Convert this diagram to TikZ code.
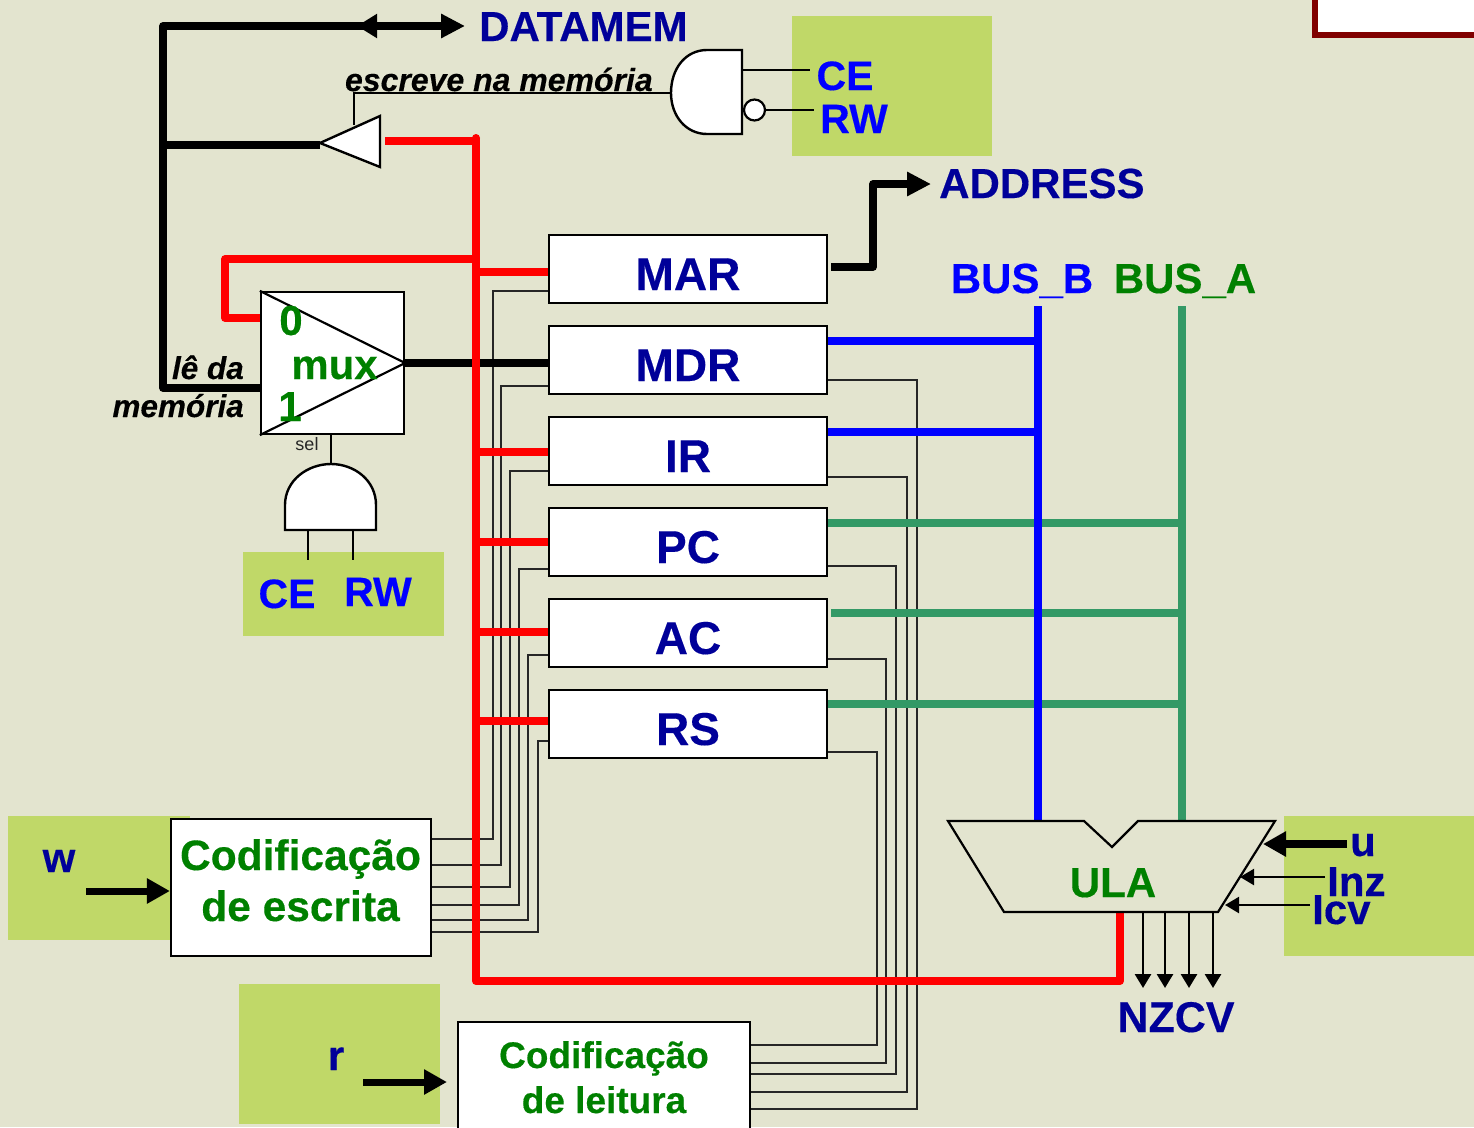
\documentclass[tikz,border=0pt]{standalone}
\usepackage{fontspec}
\setmainfont{Liberation Sans}[BoldFeatures={FakeBold=0.3}, BoldItalicFeatures={FakeBold=0.3}]
\usetikzlibrary{arrows.meta}
\definecolor{slidebg}{RGB}{227, 228, 207}
\definecolor{padgreen}{RGB}{192, 216, 104}
\definecolor{navytext}{RGB}{0, 0, 153}
\definecolor{bluetext}{RGB}{0, 0, 255}
\definecolor{greentext}{RGB}{0, 128, 0}
\definecolor{busgreen}{RGB}{51, 153, 102}
\definecolor{framered}{RGB}{128, 0, 0}
\tikzstyle{pad_box}=[fill=padgreen, draw=none]
\tikzstyle{reg_box}=[rectangle, draw=black, fill=white, line width=2.2pt, minimum width=278pt, minimum height=68pt, inner sep=0pt]
\tikzstyle{code_box}=[rectangle, draw=black, fill=white, line width=2.2pt, inner sep=0pt]
\tikzstyle{gate_shape}=[draw=black, fill=white, line width=2.4pt]
\tikzstyle{label_navy}=[text=navytext, font=\bfseries\fontsize{42}{42}\selectfont, inner sep=0pt, anchor=base]
\tikzstyle{label_blue}=[text=bluetext, font=\bfseries\fontsize{41}{41}\selectfont, inner sep=0pt, anchor=base]
\tikzstyle{label_green}=[text=greentext, font=\bfseries\fontsize{42}{42}\selectfont, inner sep=0pt, anchor=base]
\tikzstyle{label_note}=[text=black, font=\bfseries\itshape\fontsize{31.5}{32}\selectfont, inner sep=0pt, anchor=base east]
\tikzstyle{wire_thin}=[draw=black!85, line width=1.5pt]
\tikzstyle{wire_pin}=[draw=black, line width=2.2pt]
\tikzstyle{wire_black}=[draw=black, line width=7.5pt, line join=round]
\tikzstyle{wire_red}=[draw=red, line width=7.5pt, line join=round]
\tikzstyle{wire_blue}=[draw=blue, line width=8pt]
\tikzstyle{wire_green}=[draw=busgreen, line width=7.5pt]
\tikzstyle{big_tip}=[-{Triangle[length=24pt,width=23pt]}]
\tikzstyle{small_tip}=[-{Triangle[length=14pt,width=16pt]}]

\begin{document}
\begin{tikzpicture}[x=1pt, y=-1pt]
  % Background and page size
  \fill[slidebg] (0,0) rectangle (1474,1127);
  \clip (0,0) rectangle (1474,1127);

  % Green pads behind the control signals
  \fill[pad_box] (792,16) rectangle (992,156);
  \fill[pad_box] (243,552) rectangle (444,636);
  \fill[pad_box] (8,816) rectangle (190,940);
  \fill[pad_box] (239,984) rectangle (440,1124);
  \fill[pad_box] (1284,816) rectangle (1474,956);

  % Frame cut by the corner of the slide
  \draw[draw=framered, fill=white, line width=6pt] (1315,-10) rectangle (1490,35);

  % Registers and encoders come first, so that the wires can use their names
  \foreach \reg/\regname/\ypos in {mar/MAR/269, mdr/MDR/360, ir/IR/451, pc/PC/542, ac/AC/633, rs/RS/724} {
      \node[reg_box] (\reg) at (688,\ypos) {};
      \node[label_navy, font=\bfseries\fontsize{46}{46}\selectfont] (\reg_text) at (688,\ypos+21) {\regname};
  }
  \node[code_box, minimum width=260pt, minimum height=137pt] (enc_write) at (301,887.5) {};
  \node[code_box, minimum width=292pt, minimum height=140pt] (enc_read) at (604,1092) {};
  \node[rectangle, draw=black, fill=white, line width=2.2pt, minimum width=143pt, minimum height=142pt] (mux) at (332.5,363) {};

  % Write and read control lines, these go under the red bus
  \foreach \reg/\xpos/\ytop/\ybot in {mar/493/291/839, mdr/501/386/865, ir/510/471/887, pc/519/569/905, ac/528/655/920, rs/538/741/932} {
      \draw[wire_thin] (enc_write.east |- 0,\ybot) -- (\xpos,\ybot) -- (\xpos,\ytop) -- (\reg.west |- 0,\ytop);
  }
  \foreach \reg/\xpos/\ytop/\ybot in {mdr/917/380/1109, ir/907/477/1092, pc/896/566/1074, ac/886/659/1063, rs/877/752/1045} {
      \draw[wire_thin] (\reg.east |- 0,\ytop) -- (\xpos,\ytop) -- (\xpos,\ybot) -- (enc_read.east |- 0,\ybot);
  }

  % Gates on the memory side
  \coordinate (tri_tip) at (320,143);
  \coordinate (tri_top) at (380,116);
  \coordinate (tri_bot) at (380,167);
  \coordinate (nand_out) at (671,93);
  \draw[wire_pin] (nand_out) -- (354,93) -- (354,125);
  \draw[gate_shape] (tri_tip) -- (tri_top) -- (tri_bot) -- cycle;
  \draw[gate_shape] (742,50) -- (707,50) .. controls (686,50) and (671,68) .. (nand_out)
      .. controls (671,116) and (686,134) .. (707,134) -- (742,134) -- cycle;
  \node[circle, draw=black, fill=white, line width=2.2pt, minimum size=21pt, inner sep=0pt] (nand_bubble) at (754.5,110) {};
  \coordinate (ce_pin) at (810,70);
  \coordinate (rw_pin) at (814,110);
  \draw[wire_pin] (742,70) -- (ce_pin);
  \draw[wire_pin] (nand_bubble.east) -- (rw_pin);

  % Black data lines
  \coordinate (mem_corner) at (163,26);
  \coordinate (mem_end) at (465,26);
  \coordinate (read_corner) at (163,388);
  \draw[wire_black, big_tip] (mux.west |- read_corner) -- (read_corner) -- (mem_corner) -- (mem_end);
  \draw[wire_black, -{Triangle[length=20pt,width=23pt]}] (385,26) -- (357,26);
  \draw[wire_black] (163,145) -- (tri_tip |- 0,145);
  \draw[wire_black] (mux.east) -- (mdr.west |- mux.east);
  \coordinate (addr_end) at (931,184);
  \draw[wire_black, big_tip] (831,267) -- (873,267) -- (873,184) -- (addr_end);

  % Red bus and its branches
  \coordinate (alu_out) at (1120,912);
  \draw[wire_red] (476,141) -- (385,141);
  \draw[wire_red, line width=8pt, line join=round] (476,138) -- (476,981) -- (1120,981) -- (alu_out);
  \fill[red] (476,138) circle (4pt);
  \draw[wire_red] (476,259) -- (225,259) -- (225,318) -- (mux.west |- 0,318);
  \foreach \reg/\ypos in {mar/272, ir/452, pc/542, ac/632, rs/721} {
      \draw[wire_red] (476,\ypos) -- (\reg.west |- 0,\ypos);
  }

  % BUS_A first, BUS_B goes over its branches
  \draw[wire_green] (1182,306) -- (1182,822);
  \foreach \reg/\xoff/\ypos in {pc/0/523, ac/3/613, rs/0/704} {
      \draw[wire_green] ([xshift=\xoff pt]\reg.east |- 0,\ypos) -- (1182,\ypos);
  }
  \draw[wire_blue] (1038,306) -- (1038,822);
  \foreach \reg/\ypos in {mdr/341, ir/432} {
      \draw[wire_blue] (\reg.east |- 0,\ypos) -- (1038,\ypos);
  }

  % ULA, drawn after the buses which stop on its upper edge
  \draw[draw=black, line width=2.2pt] (948,821) -- (1084,821) -- (1112,847) -- (1138,821) -- (1275,821) -- (1218,912) -- (1004,912) -- cycle;
  \foreach \xpos in {1143, 1165, 1189, 1213} {
      \draw[wire_pin, line width=2.8pt, small_tip] (\xpos,912) -- (\xpos,988);
  }
  \coordinate (alu_u) at (1263,844);
  \coordinate (alu_lnz) at (1240,877);
  \coordinate (alu_lcv) at (1225,905);
  \draw[draw=black, line width=7.5pt, -{Triangle[length=23pt,width=24pt]}] (1347,844) -- (alu_u);
  \draw[wire_pin, small_tip] (1325,877) -- (alu_lnz);
  \draw[wire_pin, small_tip] (1310,905) -- (alu_lcv);

  % Triangle in the mux and the gate below it
  \draw[wire_pin] (mux.north west) -- (mux.east) -- (mux.south west);
  \coordinate (and_top) at (331,464);
  \draw[wire_pin] (mux.south -| and_top) -- (and_top);
  \draw[gate_shape] (285,530) -- (285,505) .. controls (285,480) and (308,464) .. (and_top)
      .. controls (354,464) and (376,480) .. (376,505) -- (376,530) -- cycle;
  \draw[wire_pin] (308,530) -- (308,560);
  \draw[wire_pin] (353,530) -- (353,560);

  % Arrows into the encoders
  \draw[draw=black, line width=7pt, -{Triangle[length=23pt,width=24pt]}] (86,891) -- (enc_write.west |- 0,891);
  \coordinate (read_tip) at (447,1082);
  \draw[draw=black, line width=7pt, -{Triangle[length=23pt,width=24pt]}] (363,1082) -- (read_tip);

  % Texts, placed on their baselines
  \node[label_navy, anchor=base west] (datamem) at (479,41) {DATAMEM};
  \node[label_navy, anchor=base west] (address) at (939,198) {ADDRESS};
  \node[label_blue] (ce_top) at (845,90) {CE};
  \node[label_blue] (rw_top) at (854,133) {RW};
  \node[label_blue, font=\bfseries\fontsize{42}{42}\selectfont] (bus_b) at (1022,293) {BUS\_B};
  \node[label_green] (bus_a) at (1185,293) {BUS\_A};
  \node[label_blue] (ce_low) at (287,608) {CE};
  \node[label_blue] (rw_low) at (378,606) {RW};
  \node[label_green] (mux_text) at (334.5,379) {mux};
  \node[label_green] (mux_zero) at (291,335) {0};
  \node[label_green] (mux_one) at (290,421) {1};
  \node[inner sep=0pt, anchor=base, text=black!85, font=\fontsize{18}{18}\selectfont] (sel_text) at (307,450) {sel};
  \node[label_note, font=\bfseries\itshape\fontsize{32}{32}\selectfont] (write_note) at (653,91) {escreve na memória};
  \node[label_note] (read_note_a) at (244,379) {lê da};
  \node[label_note] (read_note_b) at (244,417) {memória};
  \node[label_green] (alu_text) at (1113,897) {ULA};
  \node[label_navy, font=\bfseries\fontsize{43}{43}\selectfont] (nzcv) at (1176,1032) {NZCV};
  \node[label_navy] (u_text) at (1363,856) {u};
  \node[label_navy, anchor=base west] (lnz_text) at (1327,896) {Inz};
  \node[label_navy, anchor=base west] (lcv_text) at (1312,924) {Icv};
  \node[label_navy] (w_text) at (59,872) {w};
  \node[label_navy] (r_text) at (336,1070) {r};
  \node[label_green, font=\bfseries\fontsize{42.5}{43}\selectfont] (write_a) at (300.5,870) {Codificação};
  \node[label_green, font=\bfseries\fontsize{42.5}{43}\selectfont] (write_b) at (300.5,921) {de escrita};
  \node[label_green, font=\bfseries\fontsize{37}{37}\selectfont] (read_a) at (604,1068) {Codificação};
  \node[label_green, font=\bfseries\fontsize{37}{37}\selectfont] (read_b) at (604,1113) {de leitura};

\end{tikzpicture}
\end{document}
